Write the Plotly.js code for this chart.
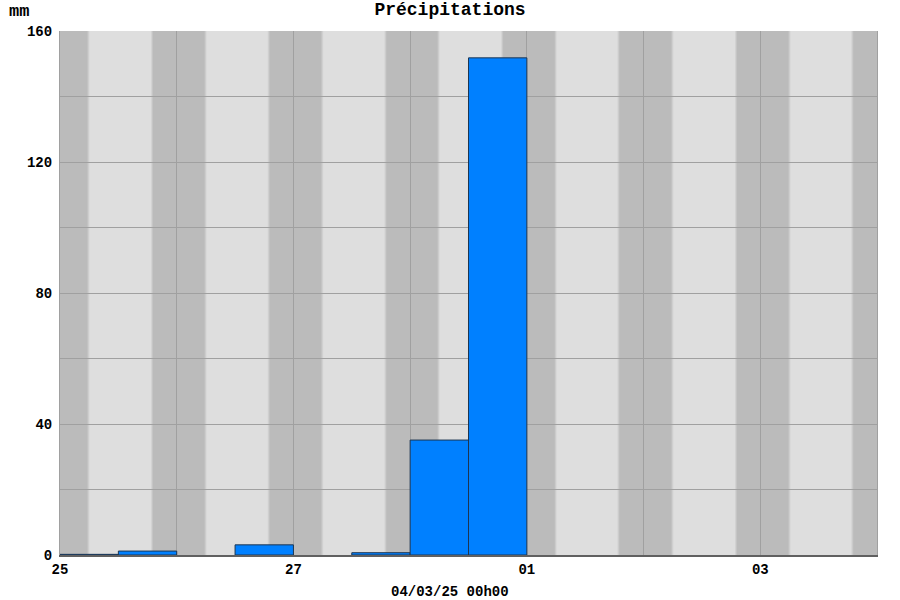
<!DOCTYPE html>
<html>
<head>
<meta charset="utf-8">
<script src="https://cdn.plot.ly/plotly-3.0.1.min.js"></script>
<style>html,body{margin:0;padding:0;background:#fff;}#chart{width:900px;height:600px;}</style>
</head>
<body>
<div id="chart"></div>
<script>
// 12-hour rain totals (mm), bins start times
const binStarts = ['2025-02-25 00:00','2025-02-25 12:00','2025-02-26 00:00','2025-02-26 12:00','2025-02-27 00:00','2025-02-27 12:00','2025-02-28 00:00','2025-02-28 12:00','2025-03-01 00:00','2025-03-01 12:00','2025-03-02 00:00','2025-03-02 12:00','2025-03-03 00:00','2025-03-03 12:00'];
const rainMm = [0.2, 1.2, 0, 3.1, 0, 0.7, 35.1, 151.8, 0, 0, 0, 0, 0, 0];
// night periods (sunset -> sunrise)
const nightStart = ['2025-02-24 18:55','2025-02-25 18:55','2025-02-26 18:55','2025-02-27 18:55','2025-02-28 18:55','2025-03-01 18:50','2025-03-02 19:00','2025-03-03 18:55'];
const nightEnd   = ['2025-02-25 05:50','2025-02-26 05:55','2025-02-27 05:55','2025-02-28 05:50','2025-03-01 05:55','2025-03-02 05:55','2025-03-03 06:00','2025-03-04 06:00'];
const xTitle = '04/03/25 00h00';
const chartTitle = 'Précipitations';
const unitLabel = 'mm';

const HALF = 6*3600*1000;
const centers = binStarts.map(s => {
  const d = new Date(s.replace(' ','T')+':00Z');
  return new Date(d.getTime()+HALF).toISOString().replace('T',' ').slice(0,19);
});
const shownRain = rainMm.map(v => v > 0 ? v : null);

function shiftMin(s, m){
  const d = new Date(s.replace(' ','T')+':00Z');
  return new Date(d.getTime()+m*60000).toISOString().replace('T',' ').slice(0,19);
}

const shapes = [];
nightStart.forEach((s,i)=>{
  const e = nightEnd[i];
  shapes.push({type:'rect',xref:'x',yref:'paper',x0:shiftMin(s,-12),x1:shiftMin(e,12),y0:0,y1:1,fillcolor:'#d3d3d3',line:{width:0},layer:'below'});
  shapes.push({type:'rect',xref:'x',yref:'paper',x0:s,x1:e,y0:0,y1:1,fillcolor:'#c6c6c6',line:{width:0},layer:'below'});
  shapes.push({type:'rect',xref:'x',yref:'paper',x0:shiftMin(s,12),x1:shiftMin(e,-12),y0:0,y1:1,fillcolor:'#bbbbbb',line:{width:0},layer:'below'});
});

const FONT = 'Liberation Mono, Courier New, monospace';

const trace = {
  type:'bar', x:centers, y:shownRain, width:12*3600*1000,
  marker:{color:'#0080ff', line:{color:'#1d3550', width:1}},
  hoverinfo:'x+y'
};

const layout = {
  width:900, height:600,
  margin:{l:60, r:23, t:31, b:45},
  paper_bgcolor:'#ffffff', plot_bgcolor:'#dedede',
  showlegend:false,
  bargap:0,
  title:{text:chartTitle, font:{family:FONT, size:18, color:'#000', weight:'bold'}, x:0.5, xanchor:'center', y:1-9/600, yref:'container', yanchor:'middle'},
  xaxis:{
    type:'date', range:['2025-02-25 00:00','2025-03-04 00:00'],
    tick0:'2025-02-25', dtick:2*86400000, tickformat:'%d',
    showgrid:true, gridcolor:'#a0a0a0', gridwidth:1,
    minor:{dtick:86400000, tick0:'2025-02-25', showgrid:true, gridcolor:'#a0a0a0', gridwidth:1},
    showline:true, linecolor:'#606060', linewidth:2,
    ticks:'', ticklabelstandoff:0,
    tickfont:{family:FONT, size:14, color:'#000', weight:'bold'},
    zeroline:false, fixedrange:true
  },
  yaxis:{
    range:[0,160], tick0:0, dtick:40,
    showgrid:true, gridcolor:'#a0a0a0', gridwidth:1,
    minor:{dtick:20, showgrid:true, gridcolor:'#a0a0a0', gridwidth:1},
    showline:true, mirror:true, linecolor:'#a0a0a0', linewidth:1,
    ticks:'', ticklabelstandoff:4,
    tickfont:{family:FONT, size:14, color:'#000', weight:'bold'},
    zeroline:false, fixedrange:true
  },
  shapes:shapes,
  annotations:[
    {text:unitLabel, xref:'paper', yref:'paper', x:(7-60)/817, y:(555-12)/524, xanchor:'left', yanchor:'middle', showarrow:false, font:{family:FONT, size:17, color:'#000', weight:'bold'}},
    {text:xTitle, xref:'paper', yref:'paper', x:(450-60)/817, y:(555-592)/524, xanchor:'center', yanchor:'middle', showarrow:false, font:{family:FONT, size:14, color:'#000', weight:'bold'}}
  ]
};

Plotly.newPlot('chart', [trace], layout, {displayModeBar:false, staticPlot:true});
</script>
</body>
</html>
